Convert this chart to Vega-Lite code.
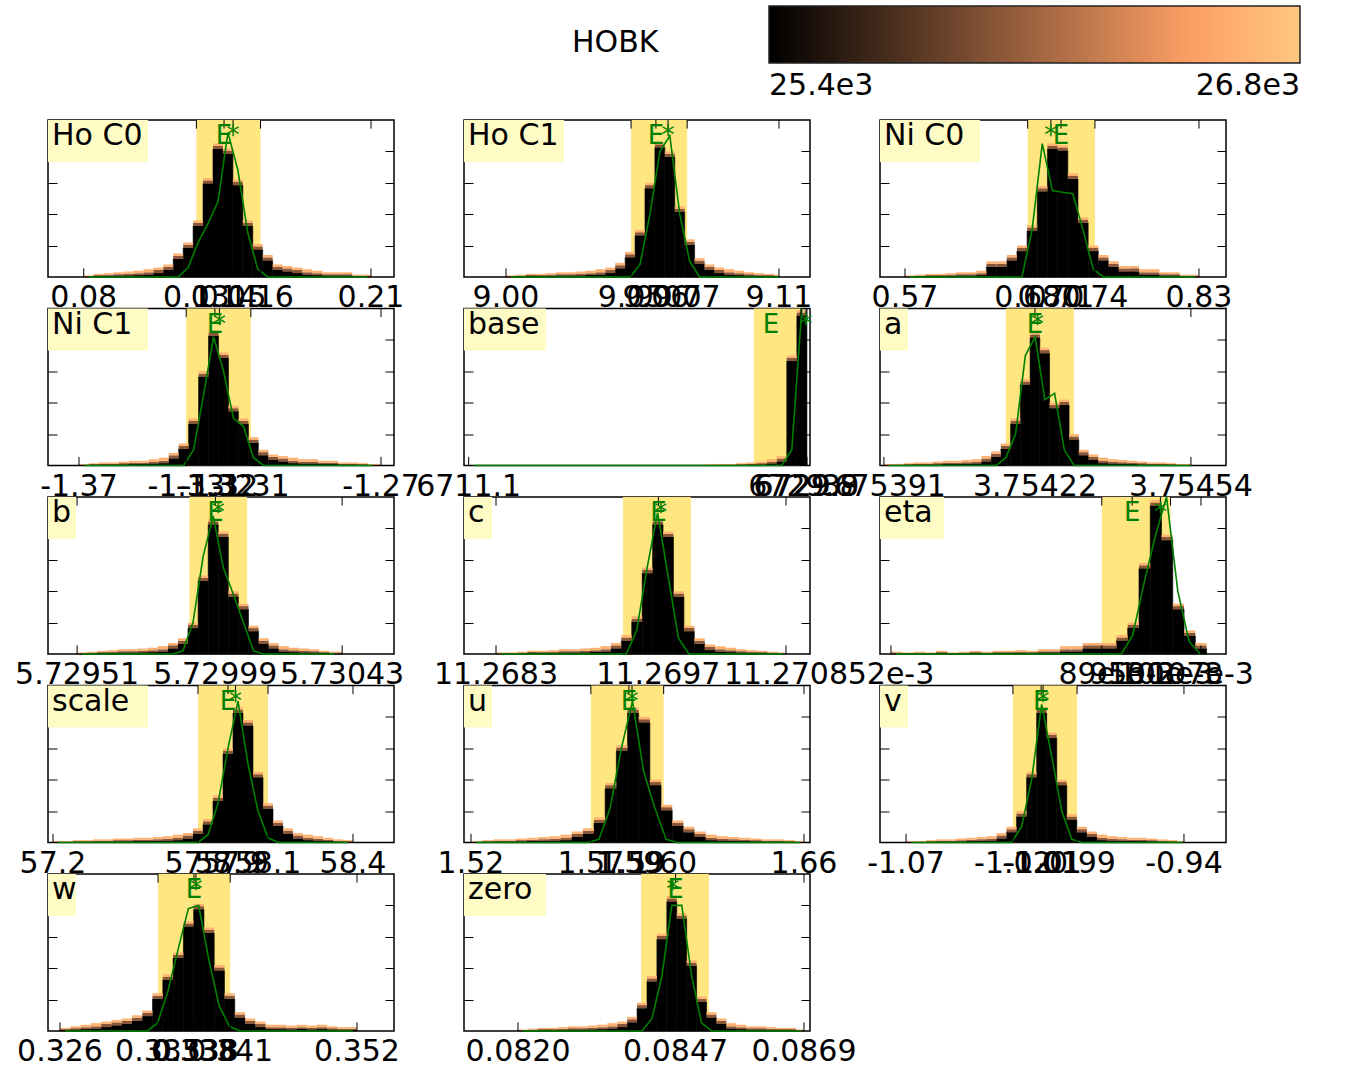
{
"$schema": "https://vega.github.io/schema/vega-lite/v6.json",
"padding": {"left": 14, "top": 6, "right": 4, "bottom": 2},
"background": "white",
"data": {"values": [
{"p":"Ho C0","lo":0.131,"hi":0.16,"l0":0.06385,"l1":0.2204},
{"p":"Ho C1","lo":9.0504,"hi":9.073,"l0":8.98307,"l1":9.1225},
{"p":"Ni C0","lo":0.6785,"hi":0.738,"l0":0.5479,"l1":0.8539},
{"p":"Ni C1","lo":-1.3345,"hi":-1.3131,"l0":-1.38026,"l1":-1.2657},
{"p":"base","lo":6726.95,"hi":6729.56,"l0":6710.84,"l1":6730.07},
{"p":"a","lo":3.75416,"hi":3.7543,"l0":3.753902,"l1":3.754612},
{"p":"b","lo":5.7299,"hi":5.7301,"l0":5.729409,"l1":5.73061},
{"p":"c","lo":11.269395,"hi":11.26998,"l0":11.268024,"l1":11.271007},
{"p":"eta","lo":0.0894,"hi":0.1016,"l0":0.05005,"l1":0.11144},
{"p":"scale","lo":57.78,"hi":58.06,"l0":57.18,"l1":58.564},
{"p":"u","lo":1.5704,"hi":1.601,"l0":1.51706,"l1":1.66252},
{"p":"v","lo":-1.02,"hi":-0.99,"l0":-1.08217,"l1":-0.92034},
{"p":"w","lo":0.33458,"hi":0.3409,"l0":0.32495,"l1":0.35524},
{"p":"zero","lo":0.08411,"hi":0.08527,"l0":0.081075,"l1":0.087003},
{"p":"Ho C0","mx":0.1435,"mt":"E"},{"p":"Ho C0","mx":0.1476,"mt":"*"},
{"p":"Ho C1","mx":9.0604,"mt":"E"},{"p":"Ho C1","mx":9.0653,"mt":"*"},
{"p":"Ni C0","mx":0.708,"mt":"E"},{"p":"Ni C0","mx":0.699,"mt":"*"},
{"p":"Ni C1","mx":-1.325,"mt":"E"},{"p":"Ni C1","mx":-1.3235,"mt":"*"},
{"p":"base","mx":6727.9,"mt":"E"},{"p":"base","mx":6729.85,"mt":"*"},
{"p":"a","mx":3.75422,"mt":"E"},{"p":"a","mx":3.754225,"mt":"*"},
{"p":"b","mx":5.72999,"mt":"E"},{"p":"b","mx":5.73,"mt":"*"},
{"p":"c","mx":11.2697,"mt":"E"},{"p":"c","mx":11.26972,"mt":"*"},
{"p":"eta","mx":0.0948,"mt":"E"},{"p":"eta","mx":0.0998,"mt":"*"},
{"p":"scale","mx":57.9,"mt":"E"},{"p":"scale","mx":57.93,"mt":"*"},
{"p":"u","mx":1.5864,"mt":"E"},{"p":"u","mx":1.5877,"mt":"*"},
{"p":"v","mx":-1.0068,"mt":"E"},{"p":"v","mx":-1.0059,"mt":"*"},
{"p":"w","mx":0.33773,"mt":"E"},{"p":"w","mx":0.3379,"mt":"*"},
{"p":"zero","mx":0.0847,"mt":"E"},{"p":"zero","mx":0.08465,"mt":"*"},
{"p":"Ho C0","t":0.08,"s":"0.08"},{"p":"Ho C0","t":0.131,"s":"0.13"},{"p":"Ho C0","t":0.1435,"s":"0.14"},{"p":"Ho C0","t":0.1476,"s":"0.15"},{"p":"Ho C0","t":0.16,"s":"0.16"},{"p":"Ho C0","t":0.21,"s":"0.21"},
{"p":"Ho C1","t":9.0,"s":"9.00"},{"p":"Ho C1","t":9.0504,"s":"9.05"},{"p":"Ho C1","t":9.0604,"s":"9.06"},{"p":"Ho C1","t":9.0653,"s":"9.07"},{"p":"Ho C1","t":9.073,"s":"9.07"},{"p":"Ho C1","t":9.11,"s":"9.11"},
{"p":"Ni C0","t":0.57,"s":"0.57"},{"p":"Ni C0","t":0.6785,"s":"0.68"},{"p":"Ni C0","t":0.699,"s":"0.70"},{"p":"Ni C0","t":0.708,"s":"0.71"},{"p":"Ni C0","t":0.738,"s":"0.74"},{"p":"Ni C0","t":0.83,"s":"0.83"},
{"p":"Ni C1","t":-1.37,"s":"-1.37"},{"p":"Ni C1","t":-1.3345,"s":"-1.33"},{"p":"Ni C1","t":-1.325,"s":"-1.32"},{"p":"Ni C1","t":-1.3235,"s":"-1.32"},{"p":"Ni C1","t":-1.3131,"s":"-1.31"},{"p":"Ni C1","t":-1.27,"s":"-1.27"},
{"p":"base","t":6711.1,"s":"6711.1"},{"p":"base","t":6729.56,"s":"6729.6"},{"p":"base","t":6729.85,"s":"6729.8"},{"p":"base","t":6729.9,"s":"6729.9"},
{"p":"a","t":3.75391,"s":"3.75391"},{"p":"a","t":3.75422,"s":"3.75422"},{"p":"a","t":3.75454,"s":"3.75454"},
{"p":"b","t":5.72951,"s":"5.72951"},{"p":"b","t":5.72999,"s":"5.72999"},{"p":"b","t":5.73043,"s":"5.73043"},
{"p":"c","t":11.2683,"s":"11.2683"},{"p":"c","t":11.2697,"s":"11.2697"},{"p":"c","t":11.2708,"s":"11.2708"},
{"p":"eta","t":0.052,"s":"52e-3"},{"p":"eta","t":0.0894,"s":"89e-3"},{"p":"eta","t":0.0948,"s":"95e-3"},{"p":"eta","t":0.0998,"s":"100e-3"},{"p":"eta","t":0.1016,"s":"102e-3"},{"p":"eta","t":0.107,"s":"107e-3"},
{"p":"scale","t":57.2,"s":"57.2"},{"p":"scale","t":57.78,"s":"57.8"},{"p":"scale","t":57.9,"s":"57.9"},{"p":"scale","t":57.93,"s":"57.9"},{"p":"scale","t":58.06,"s":"58.1"},{"p":"scale","t":58.4,"s":"58.4"},
{"p":"u","t":1.52,"s":"1.52"},{"p":"u","t":1.5704,"s":"1.57"},{"p":"u","t":1.5864,"s":"1.59"},{"p":"u","t":1.5877,"s":"1.59"},{"p":"u","t":1.601,"s":"1.60"},{"p":"u","t":1.66,"s":"1.66"},
{"p":"v","t":-1.07,"s":"-1.07"},{"p":"v","t":-1.02,"s":"-1.02"},{"p":"v","t":-1.0068,"s":"-1.01"},{"p":"v","t":-1.0059,"s":"-1.01"},{"p":"v","t":-0.99,"s":"-0.99"},{"p":"v","t":-0.94,"s":"-0.94"},
{"p":"w","t":0.326,"s":"0.326"},{"p":"w","t":0.33458,"s":"0.335"},{"p":"w","t":0.33773,"s":"0.338"},{"p":"w","t":0.3379,"s":"0.338"},{"p":"w","t":0.3409,"s":"0.341"},{"p":"w","t":0.352,"s":"0.352"},
{"p":"zero","t":0.082,"s":"0.0820"},{"p":"zero","t":0.0847,"s":"0.0847"},{"p":"zero","t":0.0869,"s":"0.0869"},

{"p":"Ho C0","x":0.08,"n":1,"a":0.3,"b":0.6,"g":0},
{"p":"Ho C0","x":0.0845,"n":2,"a":0.6,"b":1.2},
{"p":"Ho C0","x":0.089,"n":2.5,"a":0.7,"b":1.5},
{"p":"Ho C0","x":0.0935,"n":3,"a":0.9,"b":1.8},
{"p":"Ho C0","x":0.098,"n":3.5,"a":1,"b":2.1},
{"p":"Ho C0","x":0.1025,"n":4,"a":1.2,"b":2.4},
{"p":"Ho C0","x":0.107,"n":5,"a":1.5,"b":3},
{"p":"Ho C0","x":0.1115,"n":6,"a":2.5,"b":4.5},
{"p":"Ho C0","x":0.116,"n":8,"a":4.5,"b":6.5},
{"p":"Ho C0","x":0.1205,"n":15,"a":11.5,"b":13.5,"g":0},
{"p":"Ho C0","x":0.125,"n":22,"a":18.5,"b":20.5,"g":6},
{"p":"Ho C0","x":0.1295,"n":36,"a":32.5,"b":34.5,"g":22},
{"p":"Ho C0","x":0.134,"n":63,"a":59.5,"b":61.5,"g":34},
{"p":"Ho C0","x":0.1385,"n":85,"a":81.5,"b":83.5,"g":48},
{"p":"Ho C0","x":0.143,"n":82,"a":78.5,"b":80.5,"g":92},
{"p":"Ho C0","x":0.1475,"n":62,"a":58.5,"b":60.5,"g":68},
{"p":"Ho C0","x":0.152,"n":36,"a":32.5,"b":34.5,"g":28},
{"p":"Ho C0","x":0.1565,"n":21,"a":17.5,"b":19.5,"g":5},
{"p":"Ho C0","x":0.161,"n":14,"a":10.5,"b":12.5,"g":0},
{"p":"Ho C0","x":0.1655,"n":8,"a":4.5,"b":6.5},
{"p":"Ho C0","x":0.17,"n":7,"a":3.5,"b":5.5},
{"p":"Ho C0","x":0.1745,"n":6,"a":2.5,"b":4.5},
{"p":"Ho C0","x":0.179,"n":5,"a":1.5,"b":3},
{"p":"Ho C0","x":0.1835,"n":4,"a":1.2,"b":2.4},
{"p":"Ho C0","x":0.188,"n":3,"a":0.9,"b":1.8},
{"p":"Ho C0","x":0.1925,"n":3,"a":0.9,"b":1.8},
{"p":"Ho C0","x":0.197,"n":3,"a":0.9,"b":1.8},
{"p":"Ho C0","x":0.2015,"n":1.5,"a":0.4,"b":0.9},
{"p":"Ho C0","x":0.206,"n":1.5,"a":0.4,"b":0.9,"g":0},
{"p":"Ho C0","x":0.21},

{"p":"Ho C1","x":9.0,"n":1,"a":0.3,"b":0.6,"g":0},
{"p":"Ho C1","x":9.004,"n":1.5,"a":0.4,"b":0.9},
{"p":"Ho C1","x":9.008,"n":2,"a":0.6,"b":1.2},
{"p":"Ho C1","x":9.012,"n":2,"a":0.6,"b":1.2},
{"p":"Ho C1","x":9.016,"n":2.5,"a":0.7,"b":1.5},
{"p":"Ho C1","x":9.02,"n":3,"a":0.9,"b":1.8},
{"p":"Ho C1","x":9.024,"n":3,"a":0.9,"b":1.8},
{"p":"Ho C1","x":9.028,"n":3.5,"a":1,"b":2.1},
{"p":"Ho C1","x":9.032,"n":4,"a":1.2,"b":2.4},
{"p":"Ho C1","x":9.036,"n":5,"a":1.5,"b":3},
{"p":"Ho C1","x":9.04,"n":6,"a":2.5,"b":4.5},
{"p":"Ho C1","x":9.044,"n":9,"a":5.5,"b":7.5},
{"p":"Ho C1","x":9.048,"n":16,"a":12.5,"b":14.5,"g":0},
{"p":"Ho C1","x":9.052,"n":30,"a":26.5,"b":28.5,"g":8},
{"p":"Ho C1","x":9.056,"n":60,"a":56.5,"b":58.5,"g":40},
{"p":"Ho C1","x":9.06,"n":86,"a":82.5,"b":84.5,"g":80},
{"p":"Ho C1","x":9.064,"n":80,"a":76.5,"b":78.5,"g":90},
{"p":"Ho C1","x":9.068,"n":45,"a":41.5,"b":43.5,"g":40},
{"p":"Ho C1","x":9.072,"n":24,"a":20.5,"b":22.5,"g":10},
{"p":"Ho C1","x":9.076,"n":12,"a":8.5,"b":10.5,"g":0},
{"p":"Ho C1","x":9.08,"n":8,"a":4.5,"b":6.5},
{"p":"Ho C1","x":9.084,"n":6,"a":2.5,"b":4.5},
{"p":"Ho C1","x":9.088,"n":5,"a":1.5,"b":3},
{"p":"Ho C1","x":9.092,"n":4,"a":1.2,"b":2.4},
{"p":"Ho C1","x":9.096,"n":3,"a":0.9,"b":1.8},
{"p":"Ho C1","x":9.1,"n":2.5,"a":0.7,"b":1.5},
{"p":"Ho C1","x":9.104,"n":2,"a":0.6,"b":1.2},
{"p":"Ho C1","x":9.108,"n":1.5,"a":0.4,"b":0.9,"g":0},
{"p":"Ho C1","x":9.11},

{"p":"Ni C0","x":0.57,"n":1,"a":0.3,"b":0.6,"g":0},
{"p":"Ni C0","x":0.579,"n":1.5,"a":0.4,"b":0.9},
{"p":"Ni C0","x":0.588,"n":2,"a":0.6,"b":1.2},
{"p":"Ni C0","x":0.597,"n":2,"a":0.6,"b":1.2},
{"p":"Ni C0","x":0.606,"n":2.5,"a":0.7,"b":1.5},
{"p":"Ni C0","x":0.615,"n":3,"a":0.9,"b":1.8},
{"p":"Ni C0","x":0.624,"n":3,"a":0.9,"b":1.8},
{"p":"Ni C0","x":0.633,"n":4,"a":1.2,"b":2.4},
{"p":"Ni C0","x":0.642,"n":10,"a":6.5,"b":8.5},
{"p":"Ni C0","x":0.651,"n":10,"a":6.5,"b":8.5},
{"p":"Ni C0","x":0.66,"n":14,"a":10.5,"b":12.5},
{"p":"Ni C0","x":0.669,"n":20,"a":16.5,"b":18.5,"g":0},
{"p":"Ni C0","x":0.678,"n":33,"a":29.5,"b":31.5,"g":30},
{"p":"Ni C0","x":0.687,"n":58,"a":54.5,"b":56.5,"g":85},
{"p":"Ni C0","x":0.696,"n":85,"a":81.5,"b":83.5,"g":55},
{"p":"Ni C0","x":0.705,"n":84,"a":80.5,"b":82.5,"g":54},
{"p":"Ni C0","x":0.714,"n":66,"a":62.5,"b":64.5,"g":53},
{"p":"Ni C0","x":0.723,"n":38,"a":34.5,"b":36.5,"g":30},
{"p":"Ni C0","x":0.732,"n":20,"a":16.5,"b":18.5,"g":5},
{"p":"Ni C0","x":0.741,"n":14,"a":10.5,"b":12.5,"g":0},
{"p":"Ni C0","x":0.75,"n":10,"a":6.5,"b":8.5},
{"p":"Ni C0","x":0.759,"n":7,"a":3.5,"b":5.5},
{"p":"Ni C0","x":0.768,"n":7,"a":3.5,"b":5.5},
{"p":"Ni C0","x":0.777,"n":5,"a":1.5,"b":3},
{"p":"Ni C0","x":0.786,"n":5,"a":1.5,"b":3},
{"p":"Ni C0","x":0.795,"n":3,"a":0.9,"b":1.8},
{"p":"Ni C0","x":0.804,"n":3,"a":0.9,"b":1.8},
{"p":"Ni C0","x":0.813,"n":1.5,"a":0.4,"b":0.9},
{"p":"Ni C0","x":0.822,"n":1.5,"a":0.4,"b":0.9,"g":0},
{"p":"Ni C0","x":0.83},

{"p":"Ni C1","x":-1.37,"n":1,"a":0.3,"b":0.6,"g":0},
{"p":"Ni C1","x":-1.3667,"n":1.5,"a":0.4,"b":0.9},
{"p":"Ni C1","x":-1.3634,"n":2,"a":0.6,"b":1.2},
{"p":"Ni C1","x":-1.3601,"n":2,"a":0.6,"b":1.2},
{"p":"Ni C1","x":-1.3568,"n":2.5,"a":0.7,"b":1.5},
{"p":"Ni C1","x":-1.3535,"n":3,"a":0.9,"b":1.8},
{"p":"Ni C1","x":-1.3502,"n":3,"a":0.9,"b":1.8},
{"p":"Ni C1","x":-1.3469,"n":4,"a":1.2,"b":2.4},
{"p":"Ni C1","x":-1.3436,"n":5,"a":1.5,"b":3},
{"p":"Ni C1","x":-1.3403,"n":8,"a":4.5,"b":6.5},
{"p":"Ni C1","x":-1.337,"n":14,"a":10.5,"b":12.5,"g":0},
{"p":"Ni C1","x":-1.3337,"n":30,"a":26.5,"b":28.5,"g":10},
{"p":"Ni C1","x":-1.3304,"n":60,"a":56.5,"b":58.5,"g":45},
{"p":"Ni C1","x":-1.3271,"n":86,"a":82.5,"b":84.5,"g":82},
{"p":"Ni C1","x":-1.3238,"n":72,"a":68.5,"b":70.5,"g":60},
{"p":"Ni C1","x":-1.3205,"n":38,"a":34.5,"b":36.5,"g":30},
{"p":"Ni C1","x":-1.3172,"n":30,"a":26.5,"b":28.5,"g":25},
{"p":"Ni C1","x":-1.3139,"n":18,"a":14.5,"b":16.5,"g":5},
{"p":"Ni C1","x":-1.3106,"n":10,"a":6.5,"b":8.5,"g":0},
{"p":"Ni C1","x":-1.3073,"n":7,"a":3.5,"b":5.5},
{"p":"Ni C1","x":-1.304,"n":6,"a":2.5,"b":4.5},
{"p":"Ni C1","x":-1.3007,"n":5,"a":1.5,"b":3},
{"p":"Ni C1","x":-1.2974,"n":4,"a":1.2,"b":2.4},
{"p":"Ni C1","x":-1.2941,"n":4,"a":1.2,"b":2.4},
{"p":"Ni C1","x":-1.2908,"n":3,"a":0.9,"b":1.8},
{"p":"Ni C1","x":-1.2875,"n":3,"a":0.9,"b":1.8},
{"p":"Ni C1","x":-1.2842,"n":2,"a":0.6,"b":1.2},
{"p":"Ni C1","x":-1.2809,"n":2,"a":0.6,"b":1.2},
{"p":"Ni C1","x":-1.2776,"n":1.5,"a":0.4,"b":0.9},
{"p":"Ni C1","x":-1.2743,"n":1,"a":0.3,"b":0.6,"g":0},
{"p":"Ni C1","x":-1.27},

{"p":"base","x":6711.1,"n":0,"a":0,"b":0,"g":0},
{"p":"base","x":6724.3,"n":0.8,"a":0.2,"b":0.45},
{"p":"base","x":6724.86,"n":1,"a":0.3,"b":0.6},
{"p":"base","x":6725.42,"n":1,"a":0.3,"b":0.6},
{"p":"base","x":6725.98,"n":1.5,"a":0.4,"b":0.9},
{"p":"base","x":6726.54,"n":2,"a":0.6,"b":1.2},
{"p":"base","x":6727.1,"n":2.5,"a":0.7,"b":1.5},
{"p":"base","x":6727.66,"n":4,"a":1.2,"b":2.4},
{"p":"base","x":6728.22,"n":6,"a":2.5,"b":4.5,"g":0},
{"p":"base","x":6728.78,"n":70,"a":66.5,"b":68.5,"g":10},
{"p":"base","x":6729.34,"n":99,"a":95.5,"b":97.5,"g":100},
{"p":"base","x":6729.9},

{"p":"a","x":3.75391,"n":1,"a":0.3,"b":0.6,"g":0},
{"p":"a","x":3.75393,"n":1,"a":0.3,"b":0.6},
{"p":"a","x":3.75395,"n":1.5,"a":0.4,"b":0.9},
{"p":"a","x":3.75397,"n":2,"a":0.6,"b":1.2},
{"p":"a","x":3.75399,"n":2,"a":0.6,"b":1.2},
{"p":"a","x":3.75401,"n":2.5,"a":0.7,"b":1.5},
{"p":"a","x":3.75403,"n":3,"a":0.9,"b":1.8},
{"p":"a","x":3.75405,"n":3,"a":0.9,"b":1.8},
{"p":"a","x":3.75407,"n":3.5,"a":1,"b":2.1},
{"p":"a","x":3.75409,"n":4,"a":1.2,"b":2.4},
{"p":"a","x":3.75411,"n":6,"a":2.5,"b":4.5},
{"p":"a","x":3.75413,"n":9,"a":5.5,"b":7.5,"g":0},
{"p":"a","x":3.75415,"n":14,"a":10.5,"b":12.5,"g":5},
{"p":"a","x":3.75417,"n":30,"a":26.5,"b":28.5,"g":20},
{"p":"a","x":3.75419,"n":55,"a":51.5,"b":53.5,"g":70},
{"p":"a","x":3.75421,"n":85,"a":81.5,"b":83.5,"g":82},
{"p":"a","x":3.75423,"n":75,"a":71.5,"b":73.5,"g":42},
{"p":"a","x":3.75425,"n":40,"a":36.5,"b":38.5,"g":46},
{"p":"a","x":3.75427,"n":42,"a":38.5,"b":40.5,"g":10},
{"p":"a","x":3.75429,"n":20,"a":16.5,"b":18.5,"g":0},
{"p":"a","x":3.75431,"n":10,"a":6.5,"b":8.5},
{"p":"a","x":3.75433,"n":7,"a":3.5,"b":5.5},
{"p":"a","x":3.75435,"n":5,"a":1.5,"b":3},
{"p":"a","x":3.75437,"n":4,"a":1.2,"b":2.4},
{"p":"a","x":3.75439,"n":3.5,"a":1,"b":2.1},
{"p":"a","x":3.75441,"n":3,"a":0.9,"b":1.8},
{"p":"a","x":3.75443,"n":2.5,"a":0.7,"b":1.5},
{"p":"a","x":3.75445,"n":2,"a":0.6,"b":1.2},
{"p":"a","x":3.75447,"n":2,"a":0.6,"b":1.2},
{"p":"a","x":3.75449,"n":1.5,"a":0.4,"b":0.9},
{"p":"a","x":3.75451,"n":1,"a":0.3,"b":0.6},
{"p":"a","x":3.75453,"n":1,"a":0.3,"b":0.6,"g":0},
{"p":"a","x":3.75454},

{"p":"b","x":5.72951,"n":1,"a":0.3,"b":0.6,"g":0},
{"p":"b","x":5.729545,"n":1.5,"a":0.4,"b":0.9},
{"p":"b","x":5.72958,"n":2,"a":0.6,"b":1.2},
{"p":"b","x":5.729615,"n":2.5,"a":0.7,"b":1.5},
{"p":"b","x":5.72965,"n":3,"a":0.9,"b":1.8},
{"p":"b","x":5.729685,"n":3,"a":0.9,"b":1.8},
{"p":"b","x":5.72972,"n":3.5,"a":1,"b":2.1},
{"p":"b","x":5.729755,"n":4,"a":1.2,"b":2.4},
{"p":"b","x":5.72979,"n":5,"a":1.5,"b":3},
{"p":"b","x":5.729825,"n":7,"a":3.5,"b":5.5,"g":0},
{"p":"b","x":5.72986,"n":10,"a":6.5,"b":8.5,"g":2},
{"p":"b","x":5.729895,"n":20,"a":16.5,"b":18.5,"g":20},
{"p":"b","x":5.72993,"n":50,"a":46.5,"b":48.5,"g":62},
{"p":"b","x":5.729965,"n":86,"a":82.5,"b":84.5,"g":88},
{"p":"b","x":5.73,"n":78,"a":74.5,"b":76.5,"g":55},
{"p":"b","x":5.730035,"n":40,"a":36.5,"b":38.5,"g":38},
{"p":"b","x":5.73007,"n":32,"a":28.5,"b":30.5,"g":20},
{"p":"b","x":5.730105,"n":18,"a":14.5,"b":16.5,"g":2},
{"p":"b","x":5.73014,"n":10,"a":6.5,"b":8.5,"g":0},
{"p":"b","x":5.730175,"n":7,"a":3.5,"b":5.5},
{"p":"b","x":5.73021,"n":5,"a":1.5,"b":3},
{"p":"b","x":5.730245,"n":4,"a":1.2,"b":2.4},
{"p":"b","x":5.73028,"n":3.5,"a":1,"b":2.1},
{"p":"b","x":5.730315,"n":3,"a":0.9,"b":1.8},
{"p":"b","x":5.73035,"n":2,"a":0.6,"b":1.2},
{"p":"b","x":5.730385,"n":1.5,"a":0.4,"b":0.9,"g":0},
{"p":"b","x":5.73043},

{"p":"c","x":11.2683,"n":1,"a":0.3,"b":0.6,"g":0},
{"p":"c","x":11.26839,"n":1,"a":0.3,"b":0.6},
{"p":"c","x":11.26848,"n":1.5,"a":0.4,"b":0.9},
{"p":"c","x":11.26857,"n":2,"a":0.6,"b":1.2},
{"p":"c","x":11.26866,"n":2,"a":0.6,"b":1.2},
{"p":"c","x":11.26875,"n":2.5,"a":0.7,"b":1.5},
{"p":"c","x":11.26884,"n":3,"a":0.9,"b":1.8},
{"p":"c","x":11.26893,"n":3,"a":0.9,"b":1.8},
{"p":"c","x":11.26902,"n":3.5,"a":1,"b":2.1},
{"p":"c","x":11.26911,"n":4,"a":1.2,"b":2.4},
{"p":"c","x":11.2692,"n":5,"a":1.5,"b":3},
{"p":"c","x":11.26929,"n":7,"a":3.5,"b":5.5},
{"p":"c","x":11.26938,"n":12,"a":8.5,"b":10.5,"g":0},
{"p":"c","x":11.26947,"n":24,"a":20.5,"b":22.5,"g":15},
{"p":"c","x":11.26956,"n":55,"a":51.5,"b":53.5,"g":55},
{"p":"c","x":11.26965,"n":86,"a":82.5,"b":84.5,"g":90},
{"p":"c","x":11.26974,"n":78,"a":74.5,"b":76.5,"g":50},
{"p":"c","x":11.26983,"n":40,"a":36.5,"b":38.5,"g":10},
{"p":"c","x":11.26992,"n":18,"a":14.5,"b":16.5,"g":0},
{"p":"c","x":11.27001,"n":10,"a":6.5,"b":8.5},
{"p":"c","x":11.2701,"n":6,"a":2.5,"b":4.5},
{"p":"c","x":11.27019,"n":5,"a":1.5,"b":3},
{"p":"c","x":11.27028,"n":4,"a":1.2,"b":2.4},
{"p":"c","x":11.27037,"n":3,"a":0.9,"b":1.8},
{"p":"c","x":11.27046,"n":2.5,"a":0.7,"b":1.5},
{"p":"c","x":11.27055,"n":2,"a":0.6,"b":1.2},
{"p":"c","x":11.27064,"n":1.5,"a":0.4,"b":0.9},
{"p":"c","x":11.27073,"n":1,"a":0.3,"b":0.6,"g":0},
{"p":"c","x":11.2708},

{"p":"eta","x":0.052,"n":1.5,"a":0.4,"b":0.9,"g":0},
{"p":"eta","x":0.054,"n":1,"a":0.3,"b":0.6},
{"p":"eta","x":0.056,"n":1.5,"a":0.4,"b":0.9},
{"p":"eta","x":0.058,"n":1,"a":0.3,"b":0.6},
{"p":"eta","x":0.06,"n":2,"a":0.6,"b":1.2},
{"p":"eta","x":0.062,"n":1,"a":0.3,"b":0.6},
{"p":"eta","x":0.064,"n":1.5,"a":0.4,"b":0.9},
{"p":"eta","x":0.066,"n":2,"a":0.6,"b":1.2},
{"p":"eta","x":0.068,"n":1.5,"a":0.4,"b":0.9},
{"p":"eta","x":0.07,"n":2,"a":0.6,"b":1.2},
{"p":"eta","x":0.072,"n":2,"a":0.6,"b":1.2},
{"p":"eta","x":0.074,"n":2.5,"a":0.7,"b":1.5},
{"p":"eta","x":0.076,"n":2,"a":0.6,"b":1.2},
{"p":"eta","x":0.078,"n":3,"a":0.9,"b":1.8},
{"p":"eta","x":0.08,"n":3,"a":0.9,"b":1.8},
{"p":"eta","x":0.082,"n":5,"a":1.5,"b":3},
{"p":"eta","x":0.084,"n":5,"a":1.5,"b":3},
{"p":"eta","x":0.086,"n":7,"a":3.5,"b":5.5},
{"p":"eta","x":0.088,"n":7,"a":3.5,"b":5.5},
{"p":"eta","x":0.09,"n":7,"a":3.5,"b":5.5},
{"p":"eta","x":0.092,"n":12,"a":8.5,"b":10.5,"g":0},
{"p":"eta","x":0.094,"n":20,"a":16.5,"b":18.5,"g":12},
{"p":"eta","x":0.096,"n":58,"a":54.5,"b":56.5,"g":45},
{"p":"eta","x":0.098,"n":98,"a":94.5,"b":96.5,"g":75},
{"p":"eta","x":0.1,"n":76,"a":72.5,"b":74.5,"g":100},
{"p":"eta","x":0.102,"n":32,"a":28.5,"b":30.5,"g":40},
{"p":"eta","x":0.104,"n":15,"a":11.5,"b":13.5,"g":8},
{"p":"eta","x":0.106,"n":7,"a":3.5,"b":5.5,"g":0},
{"p":"eta","x":0.108},

{"p":"scale","x":57.2,"n":1,"a":0.3,"b":0.6,"g":0},
{"p":"scale","x":57.24,"n":1,"a":0.3,"b":0.6},
{"p":"scale","x":57.28,"n":1.5,"a":0.4,"b":0.9},
{"p":"scale","x":57.32,"n":1.5,"a":0.4,"b":0.9},
{"p":"scale","x":57.36,"n":2,"a":0.6,"b":1.2},
{"p":"scale","x":57.4,"n":2,"a":0.6,"b":1.2},
{"p":"scale","x":57.44,"n":2.5,"a":0.7,"b":1.5},
{"p":"scale","x":57.48,"n":2.5,"a":0.7,"b":1.5},
{"p":"scale","x":57.52,"n":3,"a":0.9,"b":1.8},
{"p":"scale","x":57.56,"n":3,"a":0.9,"b":1.8},
{"p":"scale","x":57.6,"n":3.5,"a":1,"b":2.1},
{"p":"scale","x":57.64,"n":4,"a":1.2,"b":2.4},
{"p":"scale","x":57.68,"n":5,"a":1.5,"b":3},
{"p":"scale","x":57.72,"n":6,"a":2.5,"b":4.5},
{"p":"scale","x":57.76,"n":9,"a":5.5,"b":7.5,"g":0},
{"p":"scale","x":57.8,"n":15,"a":11.5,"b":13.5,"g":5},
{"p":"scale","x":57.84,"n":30,"a":26.5,"b":28.5,"g":25},
{"p":"scale","x":57.88,"n":60,"a":56.5,"b":58.5,"g":60},
{"p":"scale","x":57.92,"n":86,"a":82.5,"b":84.5,"g":90},
{"p":"scale","x":57.96,"n":78,"a":74.5,"b":76.5,"g":50},
{"p":"scale","x":58.0,"n":45,"a":41.5,"b":43.5,"g":20},
{"p":"scale","x":58.04,"n":25,"a":21.5,"b":23.5,"g":3},
{"p":"scale","x":58.08,"n":14,"a":10.5,"b":12.5,"g":0},
{"p":"scale","x":58.12,"n":9,"a":5.5,"b":7.5},
{"p":"scale","x":58.16,"n":6,"a":2.5,"b":4.5},
{"p":"scale","x":58.2,"n":5,"a":1.5,"b":3},
{"p":"scale","x":58.24,"n":4,"a":1.2,"b":2.4},
{"p":"scale","x":58.28,"n":3,"a":0.9,"b":1.8},
{"p":"scale","x":58.32,"n":2,"a":0.6,"b":1.2},
{"p":"scale","x":58.36,"n":1.5,"a":0.4,"b":0.9,"g":0},
{"p":"scale","x":58.4},

{"p":"u","x":1.52,"n":1,"a":0.3,"b":0.6,"g":0},
{"p":"u","x":1.5247,"n":1.5,"a":0.4,"b":0.9},
{"p":"u","x":1.5294,"n":2,"a":0.6,"b":1.2},
{"p":"u","x":1.5341,"n":2,"a":0.6,"b":1.2},
{"p":"u","x":1.5388,"n":2.5,"a":0.7,"b":1.5},
{"p":"u","x":1.5435,"n":3,"a":0.9,"b":1.8},
{"p":"u","x":1.5482,"n":3.5,"a":1,"b":2.1},
{"p":"u","x":1.5529,"n":4,"a":1.2,"b":2.4},
{"p":"u","x":1.5576,"n":5,"a":1.5,"b":3},
{"p":"u","x":1.5623,"n":7,"a":3.5,"b":5.5},
{"p":"u","x":1.567,"n":9,"a":5.5,"b":7.5,"g":0},
{"p":"u","x":1.5717,"n":16,"a":12.5,"b":14.5,"g":2},
{"p":"u","x":1.5764,"n":38,"a":34.5,"b":36.5,"g":22},
{"p":"u","x":1.5811,"n":62,"a":58.5,"b":60.5,"g":60},
{"p":"u","x":1.5858,"n":86,"a":82.5,"b":84.5,"g":90},
{"p":"u","x":1.5905,"n":80,"a":76.5,"b":78.5,"g":45},
{"p":"u","x":1.5952,"n":40,"a":36.5,"b":38.5,"g":22},
{"p":"u","x":1.5999,"n":24,"a":20.5,"b":22.5,"g":2},
{"p":"u","x":1.6046,"n":14,"a":10.5,"b":12.5,"g":0},
{"p":"u","x":1.6093,"n":10,"a":6.5,"b":8.5},
{"p":"u","x":1.614,"n":7,"a":3.5,"b":5.5},
{"p":"u","x":1.6187,"n":5,"a":1.5,"b":3},
{"p":"u","x":1.6234,"n":4,"a":1.2,"b":2.4},
{"p":"u","x":1.6281,"n":3.5,"a":1,"b":2.1},
{"p":"u","x":1.6328,"n":3,"a":0.9,"b":1.8},
{"p":"u","x":1.6375,"n":2.5,"a":0.7,"b":1.5},
{"p":"u","x":1.6422,"n":2,"a":0.6,"b":1.2},
{"p":"u","x":1.6469,"n":2,"a":0.6,"b":1.2},
{"p":"u","x":1.6516,"n":1.5,"a":0.4,"b":0.9},
{"p":"u","x":1.6563,"n":1,"a":0.3,"b":0.6,"g":0},
{"p":"u","x":1.66},

{"p":"v","x":-1.07,"n":1,"a":0.3,"b":0.6,"g":0},
{"p":"v","x":-1.0653,"n":1,"a":0.3,"b":0.6},
{"p":"v","x":-1.0606,"n":1.5,"a":0.4,"b":0.9},
{"p":"v","x":-1.0559,"n":2,"a":0.6,"b":1.2},
{"p":"v","x":-1.0512,"n":2,"a":0.6,"b":1.2},
{"p":"v","x":-1.0465,"n":2.5,"a":0.7,"b":1.5},
{"p":"v","x":-1.0418,"n":3,"a":0.9,"b":1.8},
{"p":"v","x":-1.0371,"n":3.5,"a":1,"b":2.1},
{"p":"v","x":-1.0324,"n":4,"a":1.2,"b":2.4},
{"p":"v","x":-1.0277,"n":6,"a":2.5,"b":4.5},
{"p":"v","x":-1.023,"n":10,"a":6.5,"b":8.5,"g":0},
{"p":"v","x":-1.0183,"n":20,"a":16.5,"b":18.5,"g":10},
{"p":"v","x":-1.0136,"n":45,"a":41.5,"b":43.5,"g":40},
{"p":"v","x":-1.0089,"n":86,"a":82.5,"b":84.5,"g":88},
{"p":"v","x":-1.0042,"n":70,"a":66.5,"b":68.5,"g":55},
{"p":"v","x":-0.9995,"n":40,"a":36.5,"b":38.5,"g":20},
{"p":"v","x":-0.9948,"n":18,"a":14.5,"b":16.5,"g":2},
{"p":"v","x":-0.9901,"n":10,"a":6.5,"b":8.5,"g":0},
{"p":"v","x":-0.9854,"n":7,"a":3.5,"b":5.5},
{"p":"v","x":-0.9807,"n":5,"a":1.5,"b":3},
{"p":"v","x":-0.976,"n":4,"a":1.2,"b":2.4},
{"p":"v","x":-0.9713,"n":3.5,"a":1,"b":2.1},
{"p":"v","x":-0.9666,"n":3,"a":0.9,"b":1.8},
{"p":"v","x":-0.9619,"n":3,"a":0.9,"b":1.8},
{"p":"v","x":-0.9572,"n":2.5,"a":0.7,"b":1.5},
{"p":"v","x":-0.9525,"n":2,"a":0.6,"b":1.2},
{"p":"v","x":-0.9478,"n":1.5,"a":0.4,"b":0.9},
{"p":"v","x":-0.9431,"n":1,"a":0.3,"b":0.6,"g":0},
{"p":"v","x":-0.94},

{"p":"w","x":0.326,"n":2,"a":0.6,"b":1.2,"g":0},
{"p":"w","x":0.3269,"n":3,"a":0.9,"b":1.8},
{"p":"w","x":0.3278,"n":4,"a":1.2,"b":2.4},
{"p":"w","x":0.3287,"n":5,"a":1.5,"b":3},
{"p":"w","x":0.3296,"n":6,"a":2.5,"b":4.5},
{"p":"w","x":0.3305,"n":7,"a":3.5,"b":5.5},
{"p":"w","x":0.3314,"n":8,"a":4.5,"b":6.5},
{"p":"w","x":0.3323,"n":10,"a":6.5,"b":8.5},
{"p":"w","x":0.3332,"n":13,"a":9.5,"b":11.5,"g":0},
{"p":"w","x":0.3341,"n":24,"a":20.5,"b":22.5,"g":5},
{"p":"w","x":0.335,"n":36,"a":32.5,"b":34.5,"g":25},
{"p":"w","x":0.3359,"n":50,"a":46.5,"b":48.5,"g":52},
{"p":"w","x":0.3368,"n":70,"a":66.5,"b":68.5,"g":78},
{"p":"w","x":0.3377,"n":81,"a":77.5,"b":79.5,"g":80},
{"p":"w","x":0.3386,"n":66,"a":62.5,"b":64.5,"g":45},
{"p":"w","x":0.3395,"n":42,"a":38.5,"b":40.5,"g":16},
{"p":"w","x":0.3404,"n":24,"a":20.5,"b":22.5,"g":3},
{"p":"w","x":0.3413,"n":12,"a":8.5,"b":10.5,"g":0},
{"p":"w","x":0.3422,"n":8,"a":4.5,"b":6.5},
{"p":"w","x":0.3431,"n":6,"a":2.5,"b":4.5},
{"p":"w","x":0.344,"n":4,"a":1.2,"b":2.4},
{"p":"w","x":0.3449,"n":4,"a":1.2,"b":2.4},
{"p":"w","x":0.3458,"n":3.5,"a":1,"b":2.1},
{"p":"w","x":0.3467,"n":4,"a":1.2,"b":2.4},
{"p":"w","x":0.3476,"n":3.5,"a":1,"b":2.1},
{"p":"w","x":0.3485,"n":4,"a":1.2,"b":2.4},
{"p":"w","x":0.3494,"n":3,"a":0.9,"b":1.8},
{"p":"w","x":0.3503,"n":2.5,"a":0.7,"b":1.5},
{"p":"w","x":0.3512,"n":2.5,"a":0.7,"b":1.5,"g":0},
{"p":"w","x":0.352},

{"p":"zero","x":0.082,"n":1,"a":0.3,"b":0.6,"g":0},
{"p":"zero","x":0.08217,"n":1.5,"a":0.4,"b":0.9},
{"p":"zero","x":0.08234,"n":2,"a":0.6,"b":1.2},
{"p":"zero","x":0.08251,"n":2,"a":0.6,"b":1.2},
{"p":"zero","x":0.08268,"n":2.5,"a":0.7,"b":1.5},
{"p":"zero","x":0.08285,"n":3,"a":0.9,"b":1.8},
{"p":"zero","x":0.08302,"n":3,"a":0.9,"b":1.8},
{"p":"zero","x":0.08319,"n":3.5,"a":1,"b":2.1},
{"p":"zero","x":0.08336,"n":4,"a":1.2,"b":2.4},
{"p":"zero","x":0.08353,"n":5,"a":1.5,"b":3},
{"p":"zero","x":0.0837,"n":6,"a":2.5,"b":4.5},
{"p":"zero","x":0.08387,"n":9,"a":5.5,"b":7.5},
{"p":"zero","x":0.08404,"n":18,"a":14.5,"b":16.5,"g":0},
{"p":"zero","x":0.08421,"n":35,"a":31.5,"b":33.5,"g":8},
{"p":"zero","x":0.08438,"n":62,"a":58.5,"b":60.5,"g":35},
{"p":"zero","x":0.08455,"n":86,"a":82.5,"b":84.5,"g":80},
{"p":"zero","x":0.08472,"n":75,"a":71.5,"b":73.5,"g":80},
{"p":"zero","x":0.08489,"n":45,"a":41.5,"b":43.5,"g":35},
{"p":"zero","x":0.08506,"n":22,"a":18.5,"b":20.5,"g":5},
{"p":"zero","x":0.08523,"n":12,"a":8.5,"b":10.5,"g":0},
{"p":"zero","x":0.0854,"n":8,"a":4.5,"b":6.5},
{"p":"zero","x":0.08557,"n":5,"a":1.5,"b":3},
{"p":"zero","x":0.08574,"n":4,"a":1.2,"b":2.4},
{"p":"zero","x":0.08591,"n":3,"a":0.9,"b":1.8},
{"p":"zero","x":0.08608,"n":3,"a":0.9,"b":1.8},
{"p":"zero","x":0.08625,"n":2.5,"a":0.7,"b":1.5},
{"p":"zero","x":0.08642,"n":2,"a":0.6,"b":1.2},
{"p":"zero","x":0.08659,"n":2,"a":0.6,"b":1.2},
{"p":"zero","x":0.08676,"n":1,"a":0.3,"b":0.6,"g":0},
{"p":"zero","x":0.0869}
]},
"facet": {"field": "p", "type": "nominal", "sort": ["Ho C0","Ho C1","Ni C0","Ni C1","base","a","b","c","eta","scale","u","v","w","zero"], "header": {"title": null, "labels": false, "labelExpr": "''", "labelColor": "transparent"}},
"columns": 3,
"spacing": {"row": 31.5, "column": 70},
"bounds": "flush",
"resolve": {"scale": {"x": "independent"}, "axis": {"y": "independent"}},
"spec": {
  "width": 346,
  "height": 157,
  "resolve": {"axis": {"y": "independent"}},
  "layer": [
    {"transform": [{"filter": "isValid(datum.l0)"}],
     "mark": {"type": "rule", "opacity": 0},
     "encoding": {"x": {"field": "l0", "type": "quantitative", "axis": null, "scale": {"zero": false, "nice": false}}, "x2": {"field": "l1"}}},
    {"transform": [{"filter": "isValid(datum.lo)"}],
     "mark": {"type": "rect", "color": "#ffe680"},
     "encoding": {"x": {"field": "lo", "type": "quantitative", "axis": null}, "x2": {"field": "hi"}}},
    {"transform": [
       {"filter": "isValid(datum.x)"},
       {"window": [{"op": "lead", "field": "x", "as": "x2"}], "groupby": ["p"], "sort": [{"field": "x", "order": "ascending"}]},
       {"filter": "isValid(datum.x2) && isValid(datum.n)"}],
     "mark": {"type": "rect", "stroke": "#000000", "strokeWidth": 0.6},
     "encoding": {
       "x": {"field": "x", "type": "quantitative", "axis": null},
       "x2": {"field": "x2"},
       "y": {"field": "a", "type": "quantitative", "scale": {"domain": [0, 100], "nice": false},
             "axis": {"orient": "left", "values": [20, 40, 60, 80], "labels": false, "title": null, "domain": false, "grid": false, "tickSize": -9, "tickColor": "black", "tickWidth": 1}},
       "y2": {"datum": 0},
       "color": {"datum": 25400, "type": "quantitative",
                 "scale": {"domain": [25400, 26520, 26800], "range": ["#000000", "#ffa066", "#ffc77f"], "interpolate": "rgb"},
                 "legend": {"orient": "none", "legendX": 524, "legendY": -114, "direction": "horizontal", "gradientLength": 531, "gradientThickness": 57,
                            "title": "HOBK", "titleOrient": "left", "titleAnchor": "start", "titleBaseline": "line-top", "titleLineHeight": 74, "titlePadding": 110, "titleFontSize": 30, "titleFontWeight": "normal", "titleColor": "black",
                            "labelFontSize": 30, "labelColor": "black", "labelAlign": "center", "labelOffset": 8, "values": [25400, 26800],
                            "labelExpr": "format(datum.value/1000,'.1f')+'e3'", "gradientStrokeColor": "#222222", "gradientStrokeWidth": 1.5}}}},
    {"transform": [
       {"filter": "isValid(datum.x)"},
       {"window": [{"op": "lead", "field": "x", "as": "x2"}], "groupby": ["p"], "sort": [{"field": "x", "order": "ascending"}]},
       {"filter": "isValid(datum.x2) && isValid(datum.n)"}],
     "mark": {"type": "rect"},
     "encoding": {
       "x": {"field": "x", "type": "quantitative", "axis": null},
       "x2": {"field": "x2"},
       "y": {"field": "a", "type": "quantitative", "axis": null},
       "y2": {"field": "b"},
       "color": {"datum": 26000, "type": "quantitative"}}},
    {"transform": [
       {"filter": "isValid(datum.x)"},
       {"window": [{"op": "lead", "field": "x", "as": "x2"}], "groupby": ["p"], "sort": [{"field": "x", "order": "ascending"}]},
       {"filter": "isValid(datum.x2) && isValid(datum.n)"}],
     "mark": {"type": "rect"},
     "encoding": {
       "x": {"field": "x", "type": "quantitative", "axis": null},
       "x2": {"field": "x2"},
       "y": {"field": "b", "type": "quantitative", "axis": null},
       "y2": {"field": "n"},
       "color": {"datum": 26650, "type": "quantitative"}}},
    {"transform": [{"filter": "isValid(datum.g)"}],
     "mark": {"type": "line", "color": "#008000", "strokeWidth": 1.6, "xOffset": 5},
     "encoding": {
       "x": {"field": "x", "type": "quantitative", "axis": null},
       "y": {"field": "g", "type": "quantitative",
             "axis": {"orient": "right", "values": [20, 40, 60, 80], "labels": false, "title": null, "domain": false, "grid": false, "tickSize": -9, "tickColor": "black", "tickWidth": 1}}}},
    {"transform": [{"filter": "isValid(datum.t)"}],
     "mark": {"type": "rule", "color": "black", "strokeWidth": 1},
     "encoding": {"x": {"field": "t", "type": "quantitative", "axis": null}, "y": {"datum": 0, "axis": null}, "y2": {"datum": 5.5}}},
    {"transform": [{"filter": "isValid(datum.t)"}],
     "mark": {"type": "rule", "color": "black", "strokeWidth": 1},
     "encoding": {"x": {"field": "t", "type": "quantitative", "axis": null}, "y": {"datum": 100, "axis": null}, "y2": {"datum": 94.5}}},
    {"transform": [{"filter": "isValid(datum.t)"}],
     "mark": {"type": "text", "fontSize": 30, "baseline": "top", "dy": 6, "color": "black"},
     "encoding": {"x": {"field": "t", "type": "quantitative", "axis": null}, "y": {"datum": 0, "axis": null}, "text": {"field": "s"}}},
    {"transform": [{"filter": "isValid(datum.mt)"}],
     "mark": {"type": "text", "fontSize": 26, "baseline": "top", "dy": 3, "color": "#008000"},
     "encoding": {"x": {"field": "mx", "type": "quantitative", "axis": null}, "y": {"datum": 100, "axis": null}, "text": {"field": "mt"}}},
    {"transform": [{"filter": "isValid(datum.lo)"}],
     "mark": {"type": "rect", "color": "#fffbc4"},
     "encoding": {"x": {"value": 0}, "x2": {"value": {"expr": "length(datum.p)*18+10"}}, "y": {"value": 0}, "y2": {"value": 42}}},
    {"transform": [{"filter": "isValid(datum.lo)"}],
     "mark": {"type": "text", "fontSize": 30, "baseline": "top", "align": "left", "color": "black"},
     "encoding": {"x": {"value": 4}, "y": {"value": 1}, "text": {"field": "p"}}}
  ]
},
"config": {
  "font": "DejaVu Sans",
  "view": {"stroke": "black", "strokeWidth": 1.5},
  "text": {"font": "DejaVu Sans"},
  "legend": {"labelFont": "DejaVu Sans", "titleFont": "DejaVu Sans"},
  "header": {"labels": false, "labelExpr": "''", "labelColor": "transparent"},
  "headerFacet": {"labels": false, "labelExpr": "''", "labelColor": "transparent"}
}
}
